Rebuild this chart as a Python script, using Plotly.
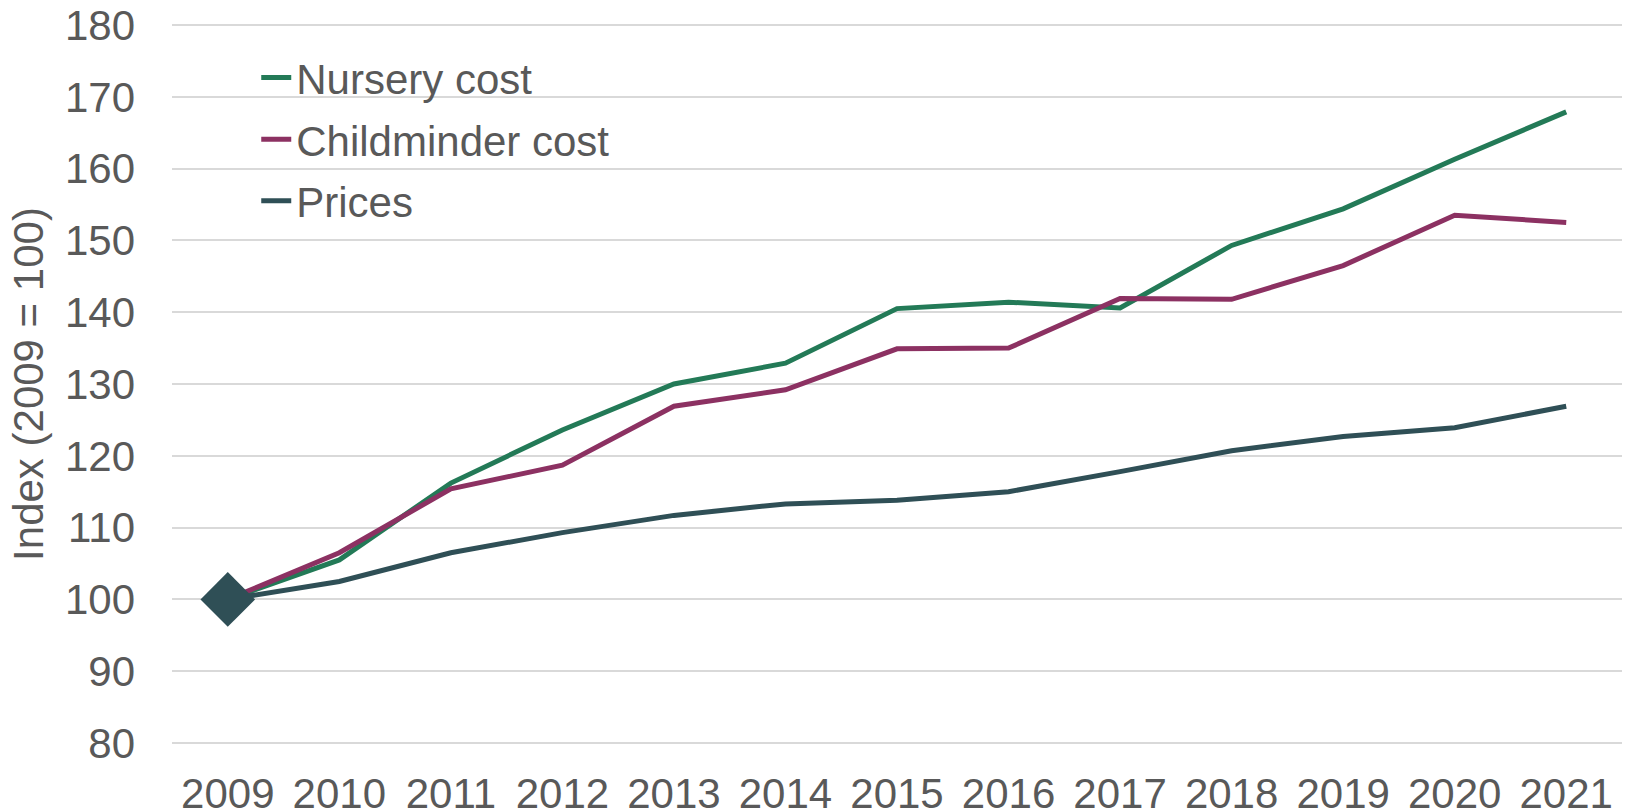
import plotly.graph_objects as go

years = ["2009", "2010", "2011", "2012", "2013", "2014", "2015",
         "2016", "2017", "2018", "2019", "2020", "2021"]
nursery = [100, 105.5, 116.2, 123.6, 130.0, 132.9, 140.5,
           141.4, 140.6, 149.3, 154.4, 161.3, 167.9]
childminder = [100, 106.5, 115.4, 118.7, 126.9, 129.2, 134.9,
               135.0, 141.9, 141.8, 146.5, 153.5, 152.5]
prices = [100, 102.5, 106.5, 109.3, 111.7, 113.3, 113.8,
          115.0, 117.8, 120.7, 122.7, 123.9, 126.9]
y_ticks = [80, 90, 100, 110, 120, 130, 140, 150, 160, 170, 180]

GREEN = "#237A57"
MAGENTA = "#8C3162"
SLATE = "#2F4F56"
TEXT = "#595959"
FONT = "Liberation Sans, Arial, sans-serif"
LW = 5

fig = go.Figure()
fig.add_trace(go.Scatter(x=years, y=nursery, mode="lines", name="Nursery cost",
                         line=dict(color=GREEN, width=LW), legendgroup="a"))
fig.add_trace(go.Scatter(x=years, y=childminder, mode="lines", name="Childminder cost",
                         line=dict(color=MAGENTA, width=LW), legendgroup="b"))
fig.add_trace(go.Scatter(x=years, y=prices, mode="lines", name="Prices",
                         line=dict(color=SLATE, width=LW), legendgroup="c"))
fig.add_trace(go.Scatter(x=[years[0]], y=[prices[0]], mode="markers",
                         marker=dict(symbol="diamond", size=42, color=SLATE),
                         showlegend=False, hoverinfo="skip"))

fig.update_layout(
    width=1630, height=811,
    margin=dict(l=172, r=8, t=24, b=67),
    paper_bgcolor="white", plot_bgcolor="white",
    font=dict(family=FONT, size=42, color=TEXT),
    showlegend=True,
    legend=dict(x=0.0581, y=0.9726, xanchor="left", yanchor="top",
                font=dict(size=42, color=TEXT), bgcolor="rgba(0,0,0,0)",
                tracegroupgap=4, traceorder="grouped"),
    xaxis=dict(type="category", range=[-0.5, 12.5], showgrid=False,
               showline=False, zeroline=False,
               tickfont=dict(size=42, color=TEXT), ticks="", automargin=False,
               ticklabelstandoff=21, ticklabeloverflow="allow"),
    yaxis=dict(range=[79.86, 180.14], tickvals=y_ticks,
               showgrid=True,
               gridcolor="#D9D9D9", gridwidth=2, zeroline=False, showline=False,
               tickfont=dict(size=42, color=TEXT), ticklabelstandoff=36,
               automargin=False, ticklabeloverflow="allow",
               title=dict(text="Index (2009 = 100)", font=dict(size=42, color=TEXT),
                          standoff=8)),
)

# remove the default 8px page margin so the 1630x811 figure fills the window
fig.write_html("out.html",
               config={"displayModeBar": False},
               post_script="document.body.style.margin='0';document.body.style.overflow='hidden';")
